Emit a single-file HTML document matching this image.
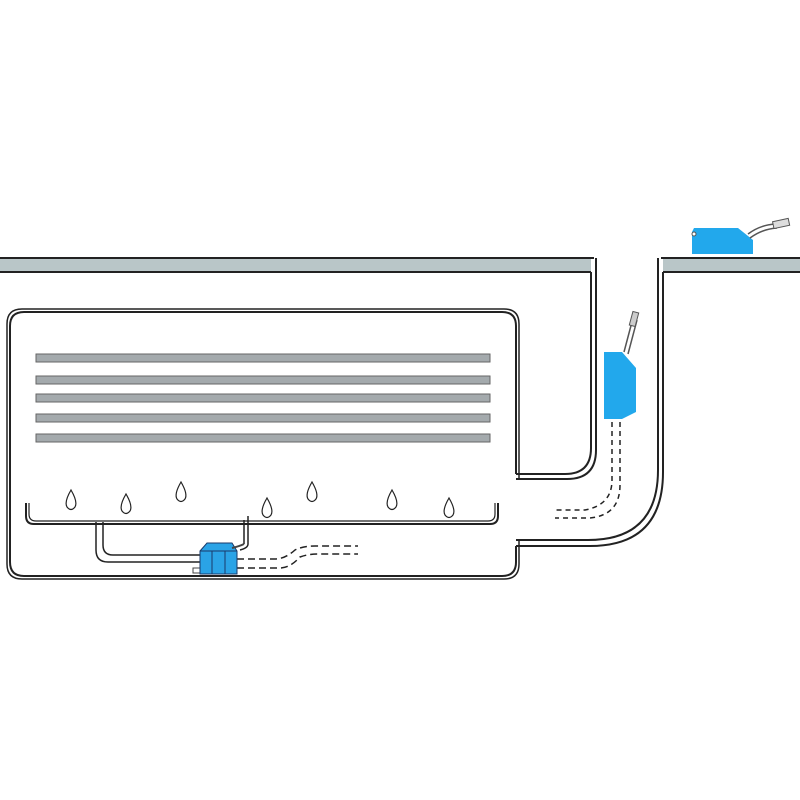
<!DOCTYPE html>
<html><head><style>body{margin:0;background:#fff}svg{display:block}</style></head><body>
<svg width="800" height="800" viewBox="0 0 800 800" xmlns="http://www.w3.org/2000/svg">
<rect width="800" height="800" fill="#fff"/>
<g stroke="#222" fill="none">
<!-- ceiling -->
<path d="M0 258 H594 M0 272 H591" stroke-width="2"/>
<rect x="0" y="259" width="591" height="12" fill="#b9c6c8" stroke="none"/>
<path d="M661 258 H800 M663 272 H800" stroke-width="2"/>
<rect x="663" y="259" width="137" height="12" fill="#b9c6c8" stroke="none"/>
<!-- left shaft wall -->
<path d="M596 258 V450 Q596 479 567 479 H516" stroke-width="2"/>
<path d="M591 272 V448 Q591 474 565 474 H516" stroke-width="2"/>
<!-- right shaft wall -->
<path d="M658 258 V470 Q658 540 588 540 H516" stroke-width="2"/>
<path d="M663 272 V472 Q663 546 590 546 H516" stroke-width="2"/>
<!-- unit box -->
<path d="M516 474 V326 Q516 312 502 312 H24 Q10 312 10 326 V562 Q10 576 24 576 H502 Q516 576 516 562 V546" stroke-width="2"/>
<path d="M519 479 V324 Q519 309 504 309 H22 Q7 309 7 324 V564 Q7 579 22 579 H504 Q519 579 519 564 V540" stroke-width="1.5"/>
<!-- coil bars -->
<g fill="#a4aaad" stroke="#666" stroke-width="1">
<rect x="36" y="354" width="454" height="8"/>
<rect x="36" y="376" width="454" height="8"/>
<rect x="36" y="394" width="454" height="8"/>
<rect x="36" y="414" width="454" height="8"/>
<rect x="36" y="434" width="454" height="8"/>
</g>
<!-- drip tray -->
<path d="M26 503 V516 Q26 524 34 524 H490 Q498 524 498 516 V503" stroke-width="2"/>
<path d="M29 503 V514 Q29 521 36 521 H488 Q495 521 495 514 V503" stroke-width="1.2"/>
<!-- drain pipe -->
<path d="M96 522 V550 Q96 562 108 562 H200 M103 522 V545 Q103 555 113 555 H200" stroke-width="1.5"/>
<path d="M244 520 V544 M248 516 V544 Q248 548 240 550" stroke-width="1.5"/>
<!-- drops -->
<g stroke-width="1.2">
<path d="M71 490 Q64 502 67 507 Q71 512 75 507 Q78 502 71 490Z"/>
<path d="M126 494 Q119 506 122 511 Q126 516 130 511 Q133 506 126 494Z"/>
<path d="M181 482 Q174 494 177 499 Q181 504 185 499 Q188 494 181 482Z"/>
<path d="M267 498 Q260 510 263 515 Q267 520 271 515 Q274 510 267 498Z"/>
<path d="M312 482 Q305 494 308 499 Q312 504 316 499 Q319 494 312 482Z"/>
<path d="M392 490 Q385 502 388 507 Q392 512 396 507 Q399 502 392 490Z"/>
<path d="M449 498 Q442 510 445 515 Q449 520 453 515 Q456 510 449 498Z"/>
</g>
<!-- dashed lines -->
<g stroke-dasharray="7 4" stroke-width="1.5">
<path d="M237 559 H275 Q285 559 295 550 Q303 546 315 546 H358"/>
<path d="M237 568 H280 Q290 568 300 557 Q308 554 318 554 H358"/>
<path d="M612 422 V480 Q612 505 585 510 H555" stroke-dasharray="5 4"/>
<path d="M620 422 V485 Q620 515 590 518 H555" stroke-dasharray="5 4"/>
</g>
</g>
<!-- small pump in unit -->
<g stroke="#1a3a6a" stroke-width="1">
<rect x="193" y="568" width="14" height="5" fill="#fff" stroke="#444"/>
<path d="M200 551 L207 543 H232 L237 551 V574 H200 Z" fill="#2aa3e6"/>
<path d="M212 551 V574 M225 551 V574 M200 551 H237" fill="none"/>
<path d="M232 548 Q240 546 244 544" fill="none" stroke="#444" stroke-width="2"/>
</g>
<!-- shaft pump -->
<path d="M604 352 H622 L636 368 V412 L622 419 H604 Z" fill="#22a8ec"/>
<path d="M624 352 L633 318 M628 354 L637 320" stroke="#555" stroke-width="1.5"/>
<rect x="631" y="312" width="6" height="14" fill="#ccc" stroke="#555" transform="rotate(15 634 319)"/>
<!-- top pump -->
<path d="M694 228 H738 L753 240 V254 H692 V232 Z" fill="#22a8ec"/>
<circle cx="694" cy="234" r="2" fill="#fff" stroke="#555"/>
<path d="M748 234 Q760 225 775 224 M750 238 Q762 229 777 228" stroke="#555" stroke-width="1.5" fill="none"/>
<rect x="773" y="220" width="16" height="7" fill="#ddd" stroke="#555" transform="rotate(-12 781 223)"/>
</svg>
</body></html>
